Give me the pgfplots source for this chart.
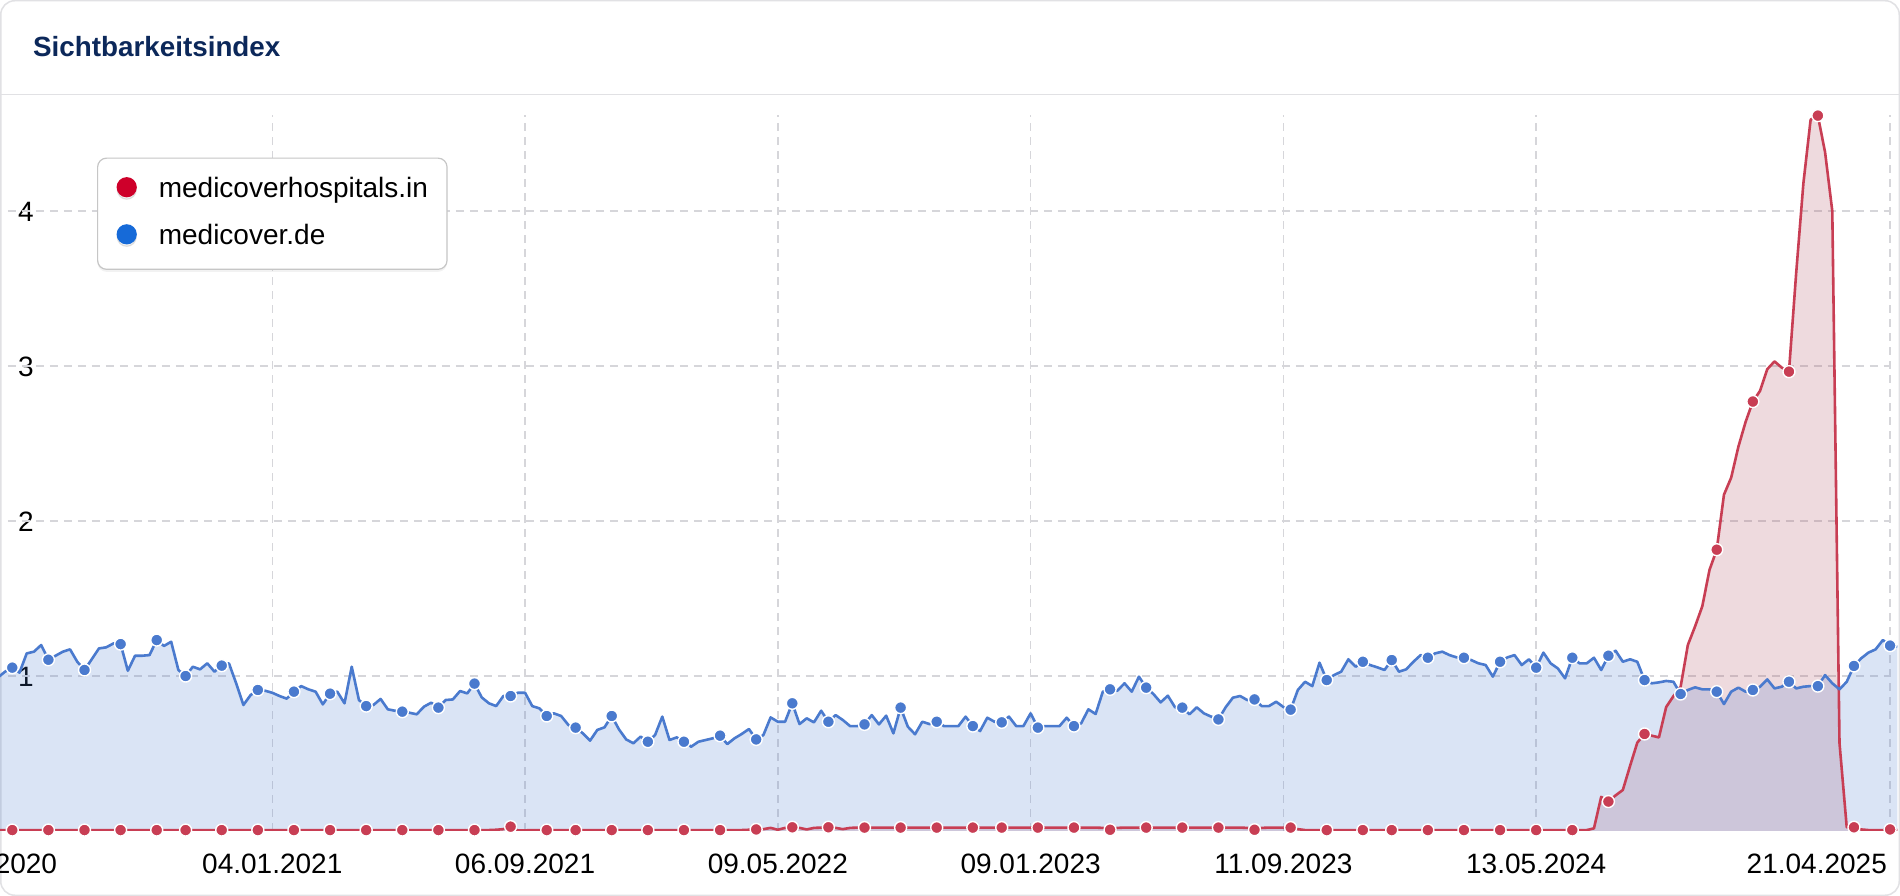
\documentclass[border=0pt]{standalone}
\usepackage{pgfplots}
\pgfplotsset{compat=1.18}
\usepackage{pgfplotstable}
\usetikzlibrary{shadows}
\usepackage{fontspec}
\setmainfont{Liberation Sans}
\definecolor{lineblue}{RGB}{74,122,206}
\definecolor{linered}{RGB}{200,62,84}
\definecolor{fillred}{RGB}{170,70,90}
\definecolor{legred}{RGB}{206,0,42}
\definecolor{legblue}{RGB}{22,106,216}
\definecolor{titleblue}{RGB}{12,40,90}
\definecolor{gridgray}{RGB}{214,214,218}
\definecolor{cardgray}{RGB}{225,225,228}
\newcommand{\tfont}{\fontsize{28bp}{34bp}\selectfont}

% medicover.de (w = weeks relative to 04.01.2021)
\pgfplotstableread[row sep=\\]{
w v m \\
-38 0.990 0 \\ -37 1.028 0 \\ -36 1.054 1 \\ -35 1.022 0 \\ -34 1.146 0 \\ -33 1.157 0 \\ -32 1.200 0 \\ -31 1.105 1 \\ -30 1.131 0 \\ -29 1.157 0 \\
-28 1.172 0 \\ -27 1.092 0 \\ -26 1.039 1 \\ -25 1.108 0 \\ -24 1.178 0 \\ -23 1.185 0 \\ -22 1.210 0 \\ -21 1.206 1 \\ -20 1.034 0 \\ -19 1.131 0 \\
-18 1.131 0 \\ -17 1.135 0 \\ -16 1.232 1 \\ -15 1.194 0 \\ -14 1.221 0 \\ -13 1.039 0 \\ -12 1.000 1 \\ -11 1.060 0 \\ -10 1.043 0 \\ -9 1.082 0 \\
-8 1.028 0 \\ -7 1.067 1 \\ -6 1.082 0 \\ -5 0.953 0 \\ -4 0.813 0 \\ -3 0.877 0 \\ -2 0.910 1 \\ -1 0.905 0 \\ 0 0.892 0 \\ 1 0.871 0 \\
2 0.854 0 \\ 3 0.899 1 \\ 4 0.935 0 \\ 5 0.914 0 \\ 6 0.899 0 \\ 7 0.817 0 \\ 8 0.886 1 \\ 9 0.899 0 \\ 10 0.824 0 \\ 11 1.060 0 \\
12 0.845 0 \\ 13 0.806 1 \\ 14 0.813 0 \\ 15 0.852 0 \\ 16 0.785 0 \\ 17 0.776 0 \\ 18 0.770 1 \\ 19 0.763 0 \\ 20 0.753 0 \\ 21 0.802 0 \\
22 0.828 0 \\ 23 0.796 1 \\ 24 0.845 0 \\ 25 0.849 0 \\ 26 0.903 0 \\ 27 0.888 0 \\ 28 0.951 1 \\ 29 0.862 0 \\ 30 0.824 0 \\ 31 0.806 0 \\
32 0.871 0 \\ 33 0.871 1 \\ 34 0.892 0 \\ 35 0.892 0 \\ 36 0.806 0 \\ 37 0.791 0 \\ 38 0.742 1 \\ 39 0.759 0 \\ 40 0.742 0 \\ 41 0.684 0 \\
42 0.667 1 \\ 43 0.630 0 \\ 44 0.583 0 \\ 45 0.652 0 \\ 46 0.669 0 \\ 47 0.742 1 \\ 48 0.656 0 \\ 49 0.591 0 \\ 50 0.566 0 \\ 51 0.609 0 \\
52 0.576 1 \\ 53 0.619 0 \\ 54 0.738 0 \\ 55 0.587 0 \\ 56 0.604 0 \\ 57 0.576 1 \\ 58 0.544 0 \\ 59 0.576 0 \\ 60 0.587 0 \\ 61 0.598 0 \\
62 0.615 1 \\ 63 0.561 0 \\ 64 0.598 0 \\ 65 0.626 0 \\ 66 0.658 0 \\ 67 0.591 1 \\ 68 0.619 0 \\ 69 0.733 0 \\ 70 0.705 0 \\ 71 0.705 0 \\
72 0.824 1 \\ 73 0.690 0 \\ 74 0.727 0 \\ 75 0.701 0 \\ 76 0.776 0 \\ 77 0.705 1 \\ 78 0.748 0 \\ 79 0.716 0 \\ 80 0.677 0 \\ 81 0.677 0 \\
82 0.688 1 \\ 83 0.748 0 \\ 84 0.688 0 \\ 85 0.744 0 \\ 86 0.630 0 \\ 87 0.796 1 \\ 88 0.673 0 \\ 89 0.624 0 \\ 90 0.705 0 \\ 91 0.690 0 \\
92 0.705 1 \\ 93 0.677 0 \\ 94 0.677 0 \\ 95 0.677 0 \\ 96 0.738 0 \\ 97 0.677 1 \\ 98 0.645 0 \\ 99 0.731 0 \\ 100 0.705 0 \\ 101 0.701 1 \\
102 0.738 0 \\ 103 0.677 0 \\ 104 0.677 0 \\ 105 0.759 0 \\ 106 0.667 1 \\ 107 0.677 0 \\ 108 0.677 0 \\ 109 0.677 0 \\ 110 0.731 0 \\ 111 0.677 1 \\
112 0.695 0 \\ 113 0.785 0 \\ 114 0.755 0 \\ 115 0.899 0 \\ 116 0.914 1 \\ 117 0.905 0 \\ 118 0.953 0 \\ 119 0.899 0 \\ 120 0.996 0 \\ 121 0.925 1 \\
122 0.884 0 \\ 123 0.830 0 \\ 124 0.873 0 \\ 125 0.798 0 \\ 126 0.796 1 \\ 127 0.753 0 \\ 128 0.798 0 \\ 129 0.759 0 \\ 130 0.738 0 \\ 131 0.720 1 \\
132 0.798 0 \\ 133 0.860 0 \\ 134 0.871 0 \\ 135 0.845 0 \\ 136 0.849 1 \\ 137 0.806 0 \\ 138 0.806 0 \\ 139 0.834 0 \\ 140 0.800 0 \\ 141 0.783 1 \\
142 0.910 0 \\ 143 0.963 0 \\ 144 0.935 0 \\ 145 1.086 0 \\ 146 0.974 1 \\ 147 1.006 0 \\ 148 1.028 0 \\ 149 1.108 0 \\ 150 1.060 0 \\ 151 1.092 1 \\
152 1.071 0 \\ 153 1.056 0 \\ 154 1.039 0 \\ 155 1.103 1 \\ 156 1.028 0 \\ 157 1.043 0 \\ 158 1.092 0 \\ 159 1.135 0 \\ 160 1.118 1 \\ 161 1.146 0 \\
162 1.157 0 \\ 163 1.135 0 \\ 164 1.120 0 \\ 165 1.118 1 \\ 166 1.103 0 \\ 167 1.082 0 \\ 168 1.071 0 \\ 169 0.996 0 \\ 170 1.092 1 \\ 171 1.120 0 \\
172 1.135 0 \\ 173 1.071 0 \\ 174 1.108 0 \\ 175 1.054 1 \\ 176 1.151 0 \\ 177 1.082 0 \\ 178 1.049 0 \\ 179 0.985 0 \\ 180 1.118 1 \\ 181 1.082 0 \\
182 1.082 0 \\ 183 1.118 0 \\ 184 1.039 0 \\ 185 1.131 1 \\ 186 1.163 0 \\ 187 1.092 0 \\ 188 1.108 0 \\ 189 1.092 0 \\ 190 0.974 1 \\ 191 0.953 0 \\
192 0.959 0 \\ 193 0.968 0 \\ 194 0.963 0 \\ 195 0.884 1 \\ 196 0.910 0 \\ 197 0.927 0 \\ 198 0.914 0 \\ 199 0.914 0 \\ 200 0.899 1 \\ 201 0.819 0 \\
202 0.899 0 \\ 203 0.925 0 \\ 204 0.899 0 \\ 205 0.910 1 \\ 206 0.931 0 \\ 207 0.978 0 \\ 208 0.920 0 \\ 209 0.931 0 \\ 210 0.963 1 \\ 211 0.920 0 \\
212 0.931 0 \\ 213 0.935 0 \\ 214 0.935 1 \\ 215 1.006 0 \\ 216 0.953 0 \\ 217 0.914 0 \\ 218 0.963 0 \\ 219 1.065 1 \\ 220 1.114 0 \\ 221 1.151 0 \\
222 1.172 0 \\ 223 1.232 0 \\ 224 1.196 1 \\ 225 1.189 0 \\
}\bluetab

% medicoverhospitals.in
\pgfplotstableread[row sep=\\]{
w v m \\
-38 0.006 0 \\ -37 0.006 0 \\ -36 0.006 1 \\ -35 0.006 0 \\ -34 0.006 0 \\ -33 0.006 0 \\ -32 0.006 0 \\ -31 0.006 1 \\ -30 0.006 0 \\ -29 0.006 0 \\
-28 0.006 0 \\ -27 0.006 0 \\ -26 0.006 1 \\ -25 0.006 0 \\ -24 0.006 0 \\ -23 0.006 0 \\ -22 0.006 0 \\ -21 0.006 1 \\ -20 0.006 0 \\ -19 0.006 0 \\
-18 0.006 0 \\ -17 0.006 0 \\ -16 0.006 1 \\ -15 0.006 0 \\ -14 0.006 0 \\ -13 0.006 0 \\ -12 0.006 1 \\ -11 0.006 0 \\ -10 0.006 0 \\ -9 0.006 0 \\
-8 0.006 0 \\ -7 0.006 1 \\ -6 0.006 0 \\ -5 0.006 0 \\ -4 0.006 0 \\ -3 0.006 0 \\ -2 0.006 1 \\ -1 0.006 0 \\ 0 0.006 0 \\ 1 0.006 0 \\
2 0.006 0 \\ 3 0.006 1 \\ 4 0.006 0 \\ 5 0.006 0 \\ 6 0.006 0 \\ 7 0.006 0 \\ 8 0.006 1 \\ 9 0.006 0 \\ 10 0.006 0 \\ 11 0.006 0 \\
12 0.006 0 \\ 13 0.006 1 \\ 14 0.006 0 \\ 15 0.006 0 \\ 16 0.006 0 \\ 17 0.006 0 \\ 18 0.006 1 \\ 19 0.006 0 \\ 20 0.006 0 \\ 21 0.006 0 \\
22 0.006 0 \\ 23 0.006 1 \\ 24 0.006 0 \\ 25 0.006 0 \\ 26 0.006 0 \\ 27 0.006 0 \\ 28 0.006 1 \\ 29 0.006 0 \\ 30 0.006 0 \\ 31 0.008 0 \\
32 0.012 0 \\ 33 0.028 1 \\ 34 0.003 0 \\ 35 0.004 0 \\ 36 0.006 0 \\ 37 0.006 0 \\ 38 0.006 1 \\ 39 0.006 0 \\ 40 0.006 0 \\ 41 0.006 0 \\
42 0.006 1 \\ 43 0.006 0 \\ 44 0.006 0 \\ 45 0.006 0 \\ 46 0.006 0 \\ 47 0.006 1 \\ 48 0.006 0 \\ 49 0.006 0 \\ 50 0.006 0 \\ 51 0.006 0 \\
52 0.006 1 \\ 53 0.006 0 \\ 54 0.006 0 \\ 55 0.006 0 \\ 56 0.006 0 \\ 57 0.006 1 \\ 58 0.006 0 \\ 59 0.006 0 \\ 60 0.006 0 \\ 61 0.006 0 \\
62 0.006 1 \\ 63 0.006 0 \\ 64 0.006 0 \\ 65 0.006 0 \\ 66 0.008 0 \\ 67 0.010 1 \\ 68 0.012 0 \\ 69 0.020 0 \\ 70 0.008 0 \\ 71 0.020 0 \\
72 0.024 1 \\ 73 0.020 0 \\ 74 0.010 0 \\ 75 0.020 0 \\ 76 0.022 0 \\ 77 0.024 1 \\ 78 0.020 0 \\ 79 0.012 0 \\ 80 0.020 0 \\ 81 0.022 0 \\
82 0.022 1 \\ 83 0.022 0 \\ 84 0.022 0 \\ 85 0.022 0 \\ 86 0.022 0 \\ 87 0.022 1 \\ 88 0.022 0 \\ 89 0.022 0 \\ 90 0.022 0 \\ 91 0.022 0 \\
92 0.022 1 \\ 93 0.022 0 \\ 94 0.022 0 \\ 95 0.022 0 \\ 96 0.022 0 \\ 97 0.022 1 \\ 98 0.022 0 \\ 99 0.022 0 \\ 100 0.022 0 \\ 101 0.022 1 \\
102 0.022 0 \\ 103 0.022 0 \\ 104 0.022 0 \\ 105 0.022 0 \\ 106 0.022 1 \\ 107 0.022 0 \\ 108 0.022 0 \\ 109 0.022 0 \\ 110 0.022 0 \\ 111 0.022 1 \\
112 0.022 0 \\ 113 0.022 0 \\ 114 0.022 0 \\ 115 0.020 0 \\ 116 0.008 1 \\ 117 0.020 0 \\ 118 0.022 0 \\ 119 0.022 0 \\ 120 0.022 0 \\ 121 0.022 1 \\
122 0.022 0 \\ 123 0.022 0 \\ 124 0.022 0 \\ 125 0.022 0 \\ 126 0.022 1 \\ 127 0.022 0 \\ 128 0.022 0 \\ 129 0.022 0 \\ 130 0.022 0 \\ 131 0.022 1 \\
132 0.022 0 \\ 133 0.022 0 \\ 134 0.022 0 \\ 135 0.020 0 \\ 136 0.008 1 \\ 137 0.020 0 \\ 138 0.022 0 \\ 139 0.022 0 \\ 140 0.022 0 \\ 141 0.022 1 \\
142 0.012 0 \\ 143 0.006 0 \\ 144 0.006 0 \\ 145 0.006 0 \\ 146 0.006 1 \\ 147 0.006 0 \\ 148 0.006 0 \\ 149 0.006 0 \\ 150 0.006 0 \\ 151 0.006 1 \\
152 0.006 0 \\ 153 0.006 0 \\ 154 0.006 0 \\ 155 0.006 1 \\ 156 0.006 0 \\ 157 0.006 0 \\ 158 0.006 0 \\ 159 0.006 0 \\ 160 0.006 1 \\ 161 0.006 0 \\
162 0.006 0 \\ 163 0.006 0 \\ 164 0.006 0 \\ 165 0.006 1 \\ 166 0.006 0 \\ 167 0.006 0 \\ 168 0.006 0 \\ 169 0.006 0 \\ 170 0.006 1 \\ 171 0.006 0 \\
172 0.006 0 \\ 173 0.006 0 \\ 174 0.006 0 \\ 175 0.006 1 \\ 176 0.006 0 \\ 177 0.006 0 \\ 178 0.006 0 \\ 179 0.006 0 \\ 180 0.006 1 \\ 181 0.006 0 \\
182 0.006 0 \\ 183 0.017 0 \\ 184 0.220 0 \\ 185 0.190 1 \\ 186 0.230 0 \\ 187 0.265 0 \\ 188 0.420 0 \\ 189 0.570 0 \\ 190 0.626 1 \\ 191 0.615 0 \\
192 0.604 0 \\ 193 0.800 0 \\ 194 0.870 0 \\ 195 0.930 0 \\ 196 1.200 0 \\ 197 1.320 0 \\ 198 1.450 0 \\ 199 1.685 0 \\ 200 1.815 1 \\ 201 2.170 0 \\
202 2.280 0 \\ 203 2.480 0 \\ 204 2.640 0 \\ 205 2.771 1 \\ 206 2.840 0 \\ 207 2.980 0 \\ 208 3.030 0 \\ 209 2.990 0 \\ 210 2.964 1 \\ 211 3.600 0 \\
212 4.180 0 \\ 213 4.590 0 \\ 214 4.616 1 \\ 215 4.380 0 \\ 216 4.000 0 \\ 217 0.566 0 \\ 218 0.024 0 \\ 219 0.024 1 \\ 220 0.010 0 \\ 221 0.006 0 \\
222 0.006 0 \\ 223 0.006 0 \\ 224 0.010 1 \\ 225 0.006 0 \\
}\redtab

\begin{document}
\begin{tikzpicture}
\useasboundingbox (0,0) rectangle (1900bp,896bp);
\fill[white] (0,0) rectangle (1900bp,896bp);
\draw[cardgray, line width=1.5bp, rounded corners=14bp] (0.75bp,0.75bp) rectangle (1899.25bp,895.25bp);
\draw[cardgray, line width=1.5bp] (0,801.5bp) -- (1900bp,801.5bp);
\node[anchor=base west, inner sep=0pt, text=titleblue, font=\bfseries\fontsize{27.8bp}{32bp}\selectfont] at (33bp,839bp) {Sichtbarkeitsindex};
\begin{axis}[
  at={(0,65bp)}, anchor=south west,
  scale only axis, width=1900bp, height=716bp,
  xmin=-37.7, xmax=225.38, ymin=0, ymax=4.62,
  clip mode=individual,
  axis line style={draw=none},
  major tick length=0pt, tick style={draw=none},
  xtick={0,35,70,105,140,175,224},
  xticklabels={04.01.2021,06.09.2021,09.05.2022,09.01.2023,11.09.2023,13.05.2024,{}},
  ytick={1,2,3,4}, yticklabels={1,2,3,4},
  xticklabel style={anchor=north, inner sep=0pt, yshift=-23bp, font=\tfont},
  yticklabel style={anchor=east, inner sep=0pt, xshift=34bp, yshift=-1bp, font=\tfont},
  xmajorgrids,
  major grid style={gridgray, line width=1.5bp, dash pattern=on 8bp off 6bp},
  legend style={at={(rel axis cs:0.05105,0.9406)}, anchor=north west, draw=gray!45, line width=1.2bp, rounded corners=9bp, fill=white, drop shadow={shadow xshift=0bp, shadow yshift=-2.5bp, opacity=0.10}, inner xsep=19bp, inner ysep=19bp, font=\tfont, row sep=21bp, column sep=22bp, nodes={inner sep=0pt, text height=20bp, text depth=6bp}},
  legend cell align=left,
  every axis plot/.append style={line join=round},
]
\addlegendimage{legend image code/.code={\fill[legred] (9.5bp,3bp) circle (9.5bp);}}
\addlegendentry{medicoverhospitals.in}
\addlegendimage{legend image code/.code={\fill[legblue] (9.5bp,3bp) circle (9.5bp);}}
\addlegendentry{medicover.de}

\pgfplotsinvokeforeach{1,2,3,4}{\draw[gridgray, line width=1.5bp, dash pattern=on 8bp off 6bp] (axis cs:-36.6,#1) -- (axis cs:224,#1);}

\addplot[forget plot, draw=none, fill=fillred, fill opacity=0.2] table[x=w,y=v]{\redtab} \closedcycle;
\addplot[forget plot, draw=none, fill=lineblue, fill opacity=0.2] table[x=w,y=v]{\bluetab} \closedcycle;
\addplot[forget plot, linered, line width=2.6bp, no marks] table[x=w,y=v]{\redtab};
\addplot[forget plot, only marks, mark=*, mark size=6bp, mark options={fill=linered, draw=white, line width=1.4bp}, restrict expr to domain={\thisrow{m}}{0.5:1.5}] table[x=w,y=v]{\redtab};
\addplot[forget plot, lineblue, line width=2.6bp, no marks] table[x=w,y=v]{\bluetab};
\addplot[forget plot, only marks, mark=*, mark size=6bp, mark options={fill=lineblue, draw=white, line width=1.4bp}, restrict expr to domain={\thisrow{m}}{0.5:1.5}] table[x=w,y=v]{\bluetab};

\node[anchor=north east, inner sep=0pt, font=\tfont, yshift=-23bp, xshift=-3bp] at (axis cs:224,0) {21.04.2025};
\node[anchor=north, inner sep=0pt, font=\tfont, yshift=-23bp] at (axis cs:-39.5,0) {06.04.2020};
\end{axis}
\end{tikzpicture}
\end{document}
